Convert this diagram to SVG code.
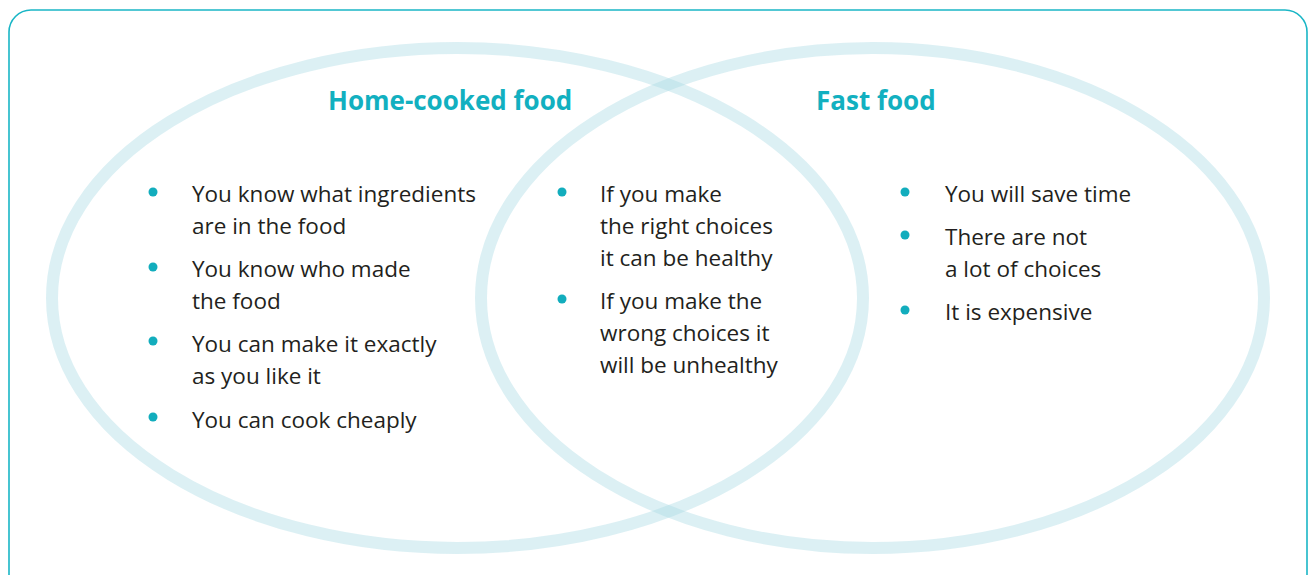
<svg xmlns="http://www.w3.org/2000/svg" width="1311" height="575" viewBox="0 0 1311 575">
  <style>
    .frame { fill: #ffffff; stroke: #1ab6c6; stroke-width: 1.6; }
    .ring { fill: none; stroke: #a8d9e3; stroke-opacity: 0.4; stroke-width: 12; }
    .title { font-family: "Open Sans", "Liberation Sans", sans-serif; font-weight: 700; font-size: 26px; fill: #12b0c0; }
    .item { font-family: "Open Sans", "Liberation Sans", sans-serif; font-weight: 400; font-size: 22.5px; fill: #231f20; }
    .dot { fill: #12adbd; }
  </style>
  <rect class="frame" x="9" y="10" width="1298" height="592" rx="22" ry="22"/>
  <g id="home-circle">
    <ellipse class="ring" cx="457.5" cy="298" rx="405.5" ry="250"/>
  </g>
  <g id="fast-circle">
    <ellipse class="ring" cx="872.5" cy="298" rx="391.5" ry="250"/>
  </g>
  <g id="titles">
    <text class="title" x="328" y="110">Home-cooked food</text>
    <text class="title" x="816" y="110">Fast food</text>
  </g>
  <g id="home-only">
    <circle class="dot" cx="153" cy="192" r="4.5"/>
    <text class="item" x="192" y="202">You know what ingredients</text>
    <text class="item" x="192" y="234">are in the food</text>
    <circle class="dot" cx="153" cy="267" r="4.5"/>
    <text class="item" x="192" y="277">You know who made</text>
    <text class="item" x="192" y="309">the food</text>
    <circle class="dot" cx="153" cy="341" r="4.5"/>
    <text class="item" x="192" y="352">You can make it exactly</text>
    <text class="item" x="192" y="384">as you like it</text>
    <circle class="dot" cx="153" cy="417" r="4.5"/>
    <text class="item" x="192" y="428">You can cook cheaply</text>
  </g>
  <g id="both">
    <circle class="dot" cx="562" cy="192" r="4.5"/>
    <text class="item" x="600" y="202">If you make</text>
    <text class="item" x="600" y="234">the right choices</text>
    <text class="item" x="600" y="266">it can be healthy</text>
    <circle class="dot" cx="562" cy="299" r="4.5"/>
    <text class="item" x="600" y="309">If you make the</text>
    <text class="item" x="600" y="341">wrong choices it</text>
    <text class="item" x="600" y="373">will be unhealthy</text>
  </g>
  <g id="fast-only">
    <circle class="dot" cx="905" cy="192" r="4.5"/>
    <text class="item" x="945" y="202">You will save time</text>
    <circle class="dot" cx="905" cy="235" r="4.5"/>
    <text class="item" x="945" y="245">There are not</text>
    <text class="item" x="945" y="277">a lot of choices</text>
    <circle class="dot" cx="905" cy="310" r="4.5"/>
    <text class="item" x="945" y="320">It is expensive</text>
  </g>
</svg>
